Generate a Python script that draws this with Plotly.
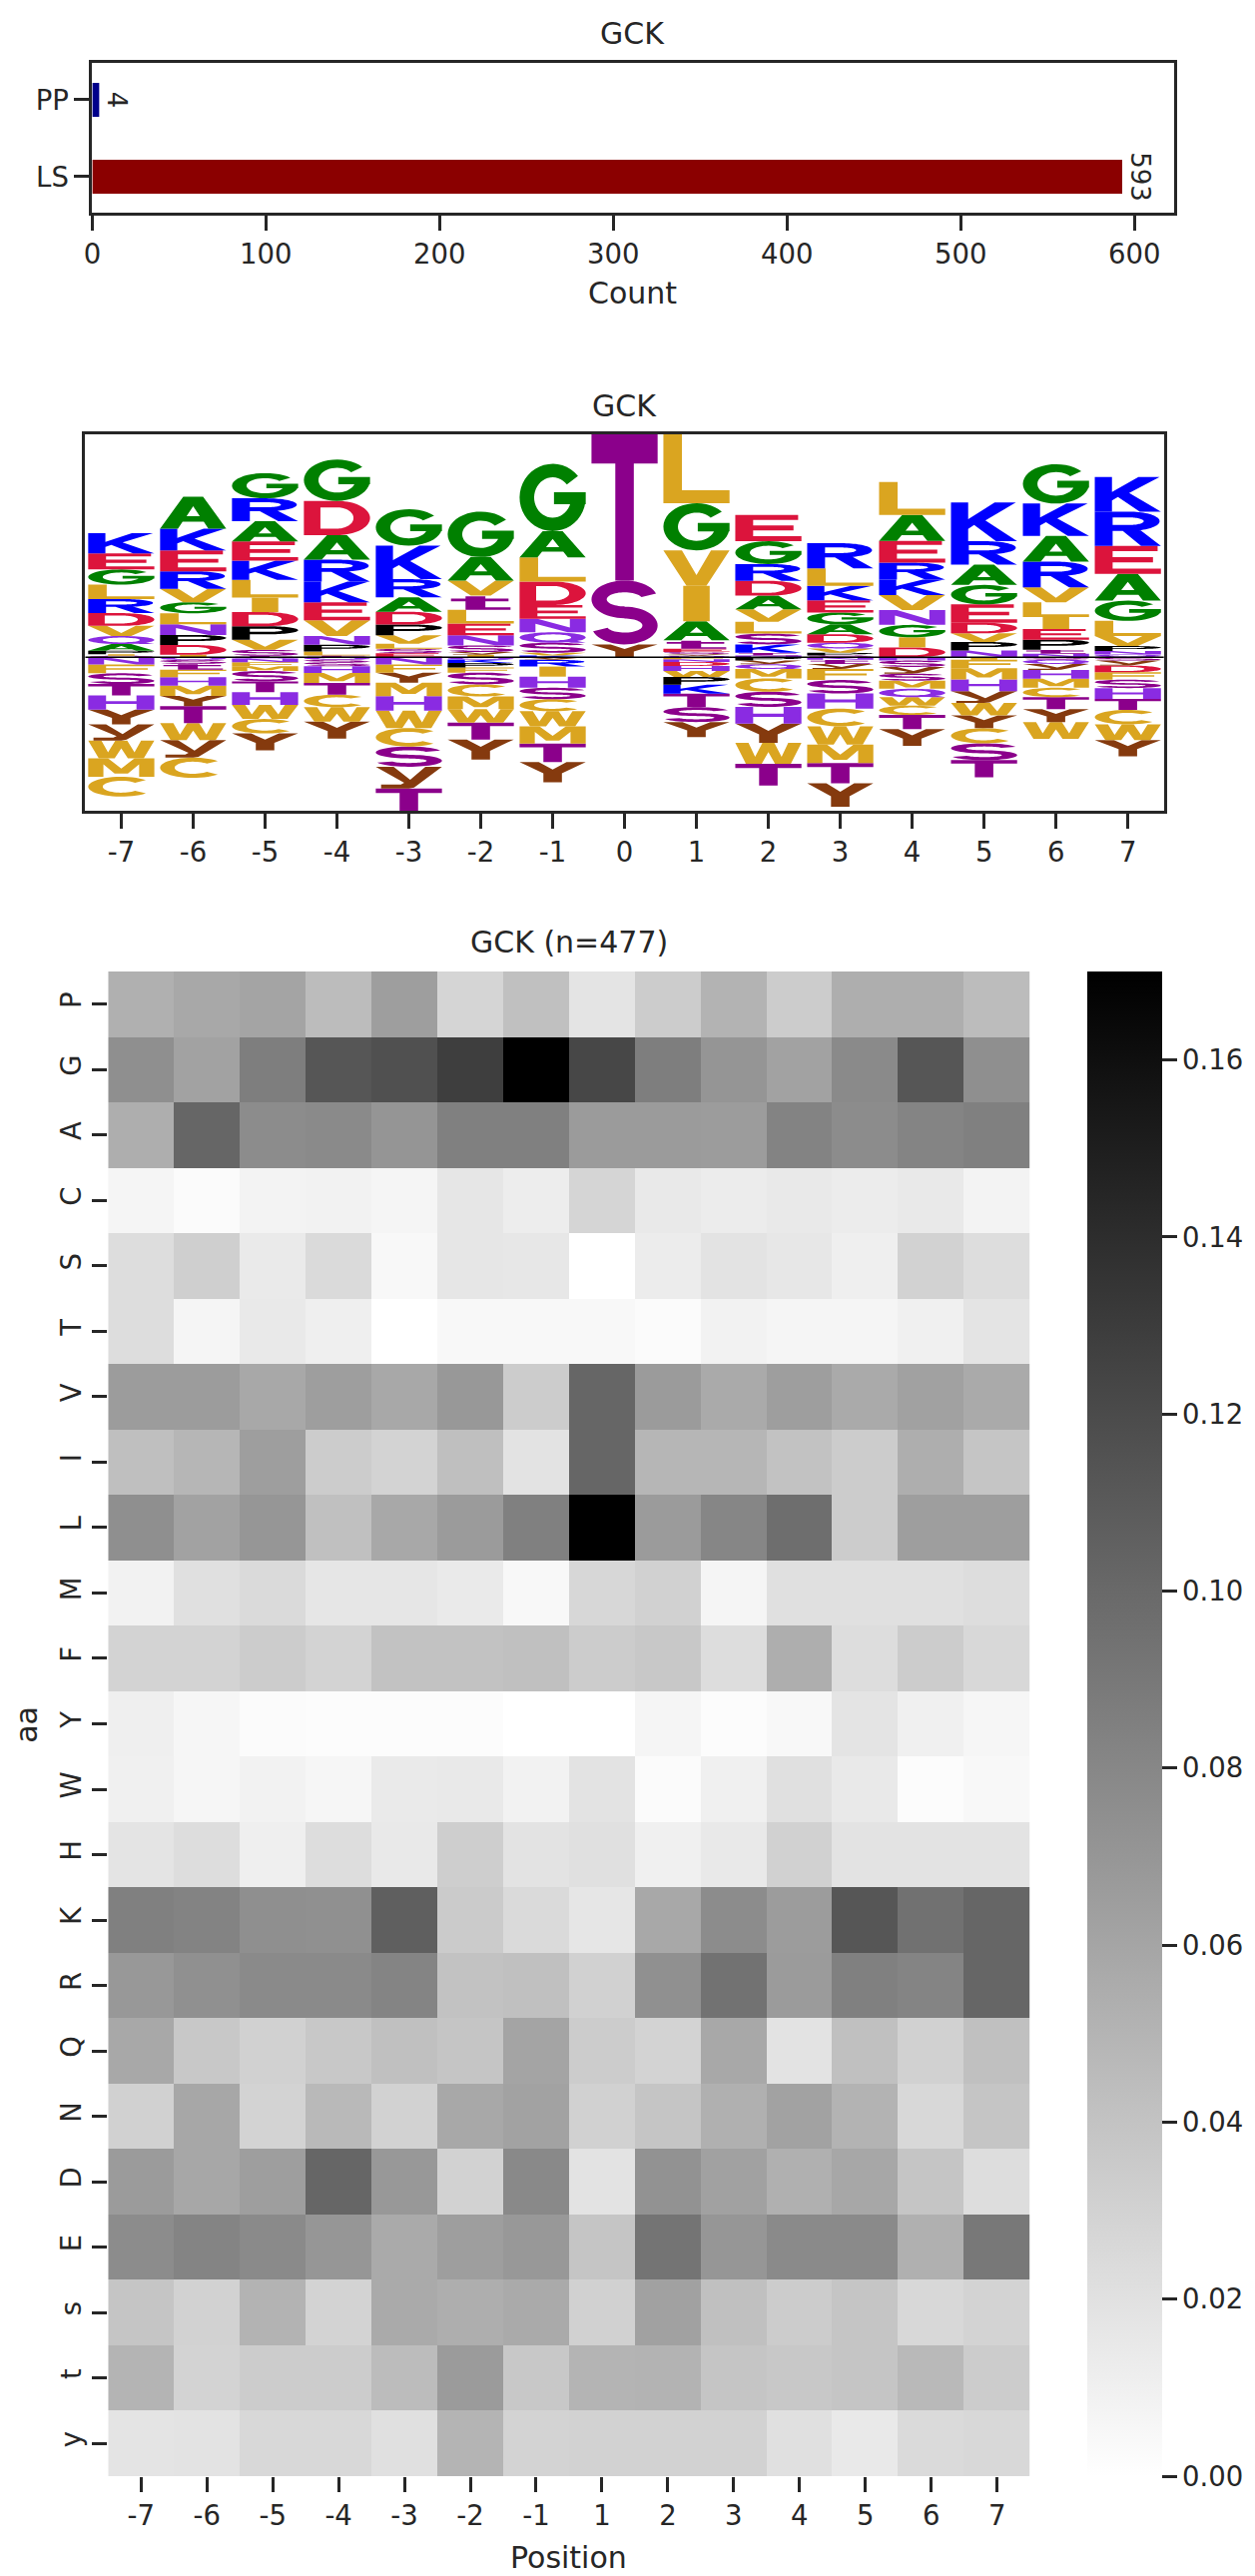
import numpy as np
import plotly.graph_objects as go

W, H = 1257, 2580
INK = '#262626'
FONT = 'DejaVu Sans'

# ---------------- bar chart data ----------------
bar_labels = ['PP', 'LS']
bar_counts = [4, 593]
bar_colors = ['#00008B', '#8B0000']

# ---------------- sequence logo data (positions -7..7) ----------------
logo_positions = list(range(-7, 8))
logo_P = [.10, .30, .40, .20, .32, -.14, 0, 0, -.23, -.10, .08, 0, .25, .30, .15]
logo_G = [.45, .33, .75, 1.23, 1.08, 1.35, 2.00, 0, 1.40, .68, .35, .37, .58, 1.17, .60]
logo_A = [.20, .95, .60, .73, .43, .70, .78, 0, .57, .41, .30, .77, .60, .77, .80]
logo_C = [-.59, -.60, -.43, -.37, -.55, -.36, -.36, 0, 0, -.40, -.53, -.28, -.45, -.28, -.43]
logo_S = [-.32, 0, -.31, -.12, -.60, -.35, -.34, 1.90, -.44, -.45, -.40, -.21, -.50, 0, -.25]
logo_T = [-.34, -.50, -.32, -.35, -.66, -.50, -.55, 4.35, -.40, -.65, -.60, -.42, -.51, -.36, -.33]
logo_V = [.30, .40, .30, .47, .25, .45, .08, 0, 1.06, .37, .13, .45, .26, .45, .30]
logo_I = [.05, .07, .43, 0, 0, .07, -.30, 0, 1.05, 0, 0, .30, -.08, .35, 0]
logo_L = [.43, .325, .53, .12, .15, .41, .72, 0, 2.05, .35, .52, .98, 0, .44, .45]
logo_M = [-.55, -.30, -.14, -.30, -.40, -.38, -.51, 0, 0, -.28, -.55, -.24, -.33, -.27, 0]
logo_F = [-.26, -.23, -.12, 0, -.24, -.15, 0, 0, -.06, 0, -.33, 0, -.25, 0, -.22]
logo_Y = [-.44, -.31, -.50, -.50, -.30, -.60, -.60, .38, -.45, -.57, -.70, -.50, -.38, -.38, -.48]
logo_W = [-.53, -.51, -.42, -.43, -.52, -.40, -.45, 0, -.18, -.62, -.54, -.25, -.37, -.50, -.47]
logo_H = [-.42, -.25, -.38, -.20, -.43, 0, -.33, 0, -.15, -.50, -.45, -.10, -.35, -.26, -.32]
logo_K = [.60, .65, .57, .62, 1.00, -.10, .05, 0, -.27, .25, .43, .46, 1.15, .96, 1.03]
logo_R = [.42, .52, .68, .65, .54, 0, -.20, 0, 0, .50, .75, .50, .70, .76, 1.02]
logo_Q = [.24, -.08, -.04, -.07, 0, -.07, .31, 0, .04, -.14, .17, -.25, 0, -.13, .08]
logo_N = [-.22, .32, -.11, .26, -.22, .30, .40, 0, -.08, .05, -.08, .44, .20, .10, .10]
logo_D = [.38, .29, .42, 1.02, .38, 0, .70, 0, -.12, .44, .25, .29, .31, 0, -.20]
logo_E = [.48, .62, .575, .53, .12, .35, .41, 0, .10, .78, .36, .65, .55, .32, .83]
logo_s = [.04, -.12, .18, -.08, .13, .20, .30, 0, .06, .32, .05, -.19, 0, -.07, -.10]
logo_t = [0, -.17, .04, .05, 0, .42, 0, 0, .25, .08, -.12, 0, 0, .12, 0]
logo_y = [-.48, -.52, 0, 0, -.65, .08, -.08, 0, .05, -.11, -.15, -.20, -.355, -.18, -.15]

# ---------------- heatmap data ----------------
hm_positions = ['-7', '-6', '-5', '-4', '-3', '-2', '-1', '1', '2', '3', '4', '5', '6', '7']
hm_aa = ['P', 'G', 'A', 'C', 'S', 'T', 'V', 'I', 'L', 'M', 'F', 'Y', 'W', 'H',
         'K', 'R', 'Q', 'N', 'D', 'E', 's', 't', 'y']
hm_P = [.053, .058, .061, .045, .065, .028, .042, .018, .034, .051, .034, .054, .054, .045]
hm_G = [.075, .062, .086, .113, .117, .129, .170, .123, .086, .071, .062, .078, .113, .075]
hm_A = [.054, .102, .077, .078, .071, .085, .085, .067, .067, .066, .083, .077, .082, .085]
hm_C = [.007, .003, .008, .009, .007, .017, .012, .028, .015, .013, .015, .013, .015, .008]
hm_S = [.023, .032, .014, .025, .005, .017, .016, .000, .013, .019, .016, .011, .030, .023]
hm_T = [.023, .007, .015, .011, .000, .005, .005, .005, .003, .009, .007, .007, .010, .018]
hm_V = [.066, .066, .058, .065, .058, .069, .034, .102, .067, .057, .065, .057, .063, .057]
hm_I = [.043, .049, .065, .034, .029, .043, .019, .102, .049, .049, .041, .034, .054, .039]
hm_L = [.075, .062, .070, .042, .058, .067, .085, .170, .067, .081, .097, .034, .065, .065]
hm_M = [.009, .021, .025, .017, .017, .014, .005, .027, .031, .007, .021, .021, .021, .023]
hm_F = [.029, .029, .034, .029, .041, .041, .042, .034, .037, .023, .054, .023, .034, .026]
hm_Y = [.011, .006, .003, .002, .002, .002, .000, .000, .007, .002, .005, .018, .010, .006]
hm_W = [.010, .006, .009, .006, .014, .015, .009, .019, .003, .010, .021, .015, .002, .005]
hm_H = [.018, .023, .011, .023, .015, .033, .019, .021, .010, .015, .031, .019, .019, .019]
hm_K = [.085, .083, .075, .074, .107, .035, .025, .017, .058, .077, .066, .113, .095, .102]
hm_R = [.069, .074, .078, .078, .082, .041, .042, .031, .074, .094, .067, .085, .082, .102]
hm_Q = [.058, .037, .031, .037, .042, .039, .061, .034, .029, .058, .019, .042, .031, .042]
hm_N = [.031, .059, .029, .047, .030, .058, .062, .031, .039, .053, .062, .051, .026, .039]
hm_D = [.067, .059, .065, .102, .069, .030, .079, .019, .073, .063, .053, .059, .039, .023]
hm_E = [.077, .082, .078, .070, .057, .065, .069, .039, .093, .070, .078, .078, .053, .090]
hm_s = [.039, .030, .051, .029, .057, .054, .057, .031, .063, .042, .034, .039, .026, .029]
hm_t = [.050, .029, .034, .034, .045, .067, .037, .050, .051, .039, .037, .039, .047, .034]
hm_y = [.018, .019, .026, .026, .021, .050, .029, .030, .030, .030, .021, .015, .025, .026]

# ======================================================================
logo_letters = ['P', 'G', 'A', 'C', 'S', 'T', 'V', 'I', 'L', 'M', 'F', 'Y', 'W', 'H',
                'K', 'R', 'Q', 'N', 'D', 'E', 's', 't', 'y']
logo_values = {ch: globals()['logo_' + ch] for ch in logo_letters}
hm_z = [globals()['hm_' + ch] for ch in hm_aa]

GOLD, GREEN, BLUE, RED = '#DAA520', '#008000', '#0000FF', '#DC143C'
VIOLET, MAGENTA, BROWN = '#8A2BE2', '#8B008B', '#853A0E'
LETTER_COLORS = {'G': GREEN, 'A': GREEN, 'K': BLUE, 'R': BLUE, 'D': RED, 'E': RED,
                 'L': GOLD, 'V': GOLD, 'I': GOLD, 'F': GOLD, 'M': GOLD, 'W': GOLD, 'C': GOLD,
                 'N': VIOLET, 'Q': VIOLET, 'H': VIOLET,
                 'S': MAGENTA, 'T': MAGENTA, 's': MAGENTA, 't': MAGENTA,
                 'Y': BROWN, 'y': BROWN, 'P': '#000000'}


def arc(cx, cy, rx, ry, a0, a1, n=40):
    t = np.radians(np.linspace(a0, a1, n))
    return [(cx + rx * np.cos(a), cy + ry * np.sin(a)) for a in t]


def ring(cx, cy, rxo, ryo, rxi, ryi, a0, a1, n=40):
    return arc(cx, cy, rxo, ryo, a0, a1, n) + arc(cx, cy, rxi, ryi, a1, a0, n)


def box(x0, y0, x1, y1):
    return [(x0, y0), (x1, y0), (x1, y1), (x0, y1)]


S_GLYPH = ([ring(0.5, 0.705, 0.5, 0.295, 0.27, 0.11, 18, 270),
            ring(0.5, 0.295, 0.5, 0.295, 0.27, 0.11, 198, 450)], [])
GLYPHS = {
    'A': ([[(0, 0), (0.35, 1), (0.65, 1), (1, 0), (0.73, 0), (0.66, 0.22), (0.34, 0.22), (0.27, 0)]],
          [[(0.40, 0.39), (0.60, 0.39), (0.5, 0.70)]]),
    'C': ([ring(0.5, 0.5, 0.5, 0.5, 0.28, 0.30, 42, 318)], []),
    'D': ([[(0, 0), (0, 1)] + arc(0.5, 0.5, 0.5, 0.5, 90, -90)],
          [[(0.25, 0.19), (0.25, 0.81)] + arc(0.5, 0.5, 0.25, 0.31, 90, -90)]),
    'E': ([[(0, 0), (0, 1), (0.95, 1), (0.95, 0.81), (0.27, 0.81), (0.27, 0.6), (0.88, 0.6),
            (0.88, 0.41), (0.27, 0.41), (0.27, 0.19), (1, 0.19), (1, 0)]], []),
    'F': ([[(0, 0), (0, 1), (1, 1), (1, 0.81), (0.27, 0.81), (0.27, 0.59), (0.9, 0.59),
            (0.9, 0.4), (0.27, 0.4), (0.27, 0)]], []),
    'G': ([ring(0.5, 0.5, 0.5, 0.5, 0.28, 0.30, 40, 360), box(0.52, 0.40, 1.0, 0.58)], []),
    'H': ([[(0, 0), (0, 1), (0.27, 1), (0.27, 0.6), (0.73, 0.6), (0.73, 1), (1, 1), (1, 0),
            (0.73, 0), (0.73, 0.41), (0.27, 0.41), (0.27, 0)]], []),
    'I': ([box(0.3, 0, 0.7, 1)], []),
    'K': ([[(0, 0), (0, 1), (0.26, 1), (0.26, 0.57), (0.66, 1), (0.98, 1), (0.52, 0.54), (1, 0),
            (0.68, 0), (0.35, 0.42), (0.26, 0.32), (0.26, 0)]], []),
    'L': ([[(0, 0), (0, 1), (0.28, 1), (0.28, 0.19), (1, 0.19), (1, 0)]], []),
    'M': ([[(0, 0), (0, 1), (0.3, 1), (0.5, 0.45), (0.7, 1), (1, 1), (1, 0), (0.77, 0), (0.77, 0.68),
            (0.6, 0.17), (0.4, 0.17), (0.23, 0.68), (0.23, 0)]], []),
    'N': ([[(0, 0), (0, 1), (0.27, 1), (0.76, 0.36), (0.76, 1), (1, 1), (1, 0), (0.73, 0),
            (0.24, 0.64), (0.24, 0)]], []),
    'P': ([[(0, 0), (0, 1), (0.55, 1)] + arc(0.55, 0.7, 0.45, 0.3, 90, -90) + [(0.27, 0.4), (0.27, 0)]],
          [[(0.27, 0.58), (0.27, 0.82), (0.55, 0.82)] + arc(0.55, 0.7, 0.21, 0.12, 90, -90)]),
    'Q': ([arc(0.5, 0.5, 0.5, 0.5, 0, 360, 60), [(0.58, 0.26), (0.8, 0.26), (1.0, 0.0), (0.78, 0.0)]],
          [arc(0.5, 0.5, 0.28, 0.30, 0, 360, 60)]),
    'R': ([[(0, 0), (0, 1), (0.52, 1)] + arc(0.52, 0.72, 0.46, 0.28, 90, -90) + [(0.27, 0.44), (0.27, 0)],
           [(0.4, 0.47), (0.68, 0.47), (1.0, 0), (0.7, 0)]],
          [[(0.27, 0.61), (0.27, 0.83), (0.52, 0.83)] + arc(0.52, 0.72, 0.22, 0.11, 90, -90)]),
    'S': S_GLYPH,
    's': S_GLYPH,
    'T': ([[(0, 1), (1, 1), (1, 0.8), (0.64, 0.8), (0.64, 0), (0.36, 0), (0.36, 0.8), (0, 0.8)]], []),
    'V': ([[(0, 1), (0.28, 1), (0.5, 0.3), (0.72, 1), (1, 1), (0.65, 0), (0.35, 0)]], []),
    'W': ([[(0, 1), (0.2, 1), (0.3, 0.33), (0.41, 1), (0.59, 1), (0.7, 0.33), (0.8, 1), (1, 1),
            (0.84, 0), (0.6, 0), (0.5, 0.56), (0.4, 0), (0.16, 0)]], []),
    'Y': ([[(0, 1), (0.29, 1), (0.5, 0.63), (0.71, 1), (1, 1), (0.64, 0.44), (0.64, 0), (0.36, 0),
            (0.36, 0.44)]], []),
    't': ([box(0.27, 0.1, 0.57, 0.95), box(0.05, 0.6, 0.92, 0.79), box(0.27, 0, 0.95, 0.18)], []),
    'y': ([[(0, 1), (0.27, 1), (0.52, 0.4), (0.75, 1), (1, 1), (0.58, 0.05), (0.5, 0), (0.08, 0),
            (0.08, 0.18), (0.38, 0.18), (0.43, 0.27)]], []),
}


def signed_area(pts):
    a = 0.0
    for i in range(len(pts)):
        x1, y1 = pts[i]
        x2, y2 = pts[(i + 1) % len(pts)]
        a += x1 * y2 - x2 * y1
    return a / 2.0


def glyph_path(ch, xc, y0, h, w=0.92):
    outers, holes = GLYPHS[ch]
    parts = []
    for poly, ccw in [(p, True) for p in outers] + [(p, False) for p in holes]:
        pts = list(poly)
        if (signed_area(pts) > 0) != ccw:
            pts = pts[::-1]
        parts.append('M ' + ' L '.join(f'{xc - w / 2 + gx * w:.4f},{y0 + gy * h:.5f}'
                                       for gx, gy in pts) + ' Z')
    return ' '.join(parts)


# stacking like logomaker (big on top, negatives below baseline)
shapes = []
ymin, ymax = 0.0, 0.0
for j, pos in enumerate(logo_positions):
    vals = sorted([(logo_values[ch][j], k, ch) for k, ch in enumerate(logo_letters)])
    floor = sum(v for v, _, _ in vals if v < 0)
    ymin = min(ymin, floor)
    for v, _, ch in vals:
        if v == 0:
            continue
        ceil = floor + abs(v)
        shapes.append(dict(type='path', xref='x2', yref='y2', path=glyph_path(ch, pos, floor, abs(v)),
                           fillcolor=LETTER_COLORS[ch], line=dict(width=0), fillrule='nonzero',
                           layer='above'))
        floor = ceil
    ymax = max(ymax, floor)

shapes.append(dict(type='line', xref='x2 domain', yref='y2', x0=0, x1=1, y0=0, y1=0,
                   line=dict(color='black', width=1.5), layer='above'))

fig = go.Figure()

# bar chart
fig.add_trace(go.Bar(x=bar_counts, y=bar_labels, orientation='h', marker=dict(color=bar_colors, line=dict(width=0)),
                     width=0.44, text=[str(c) for c in bar_counts], textposition='outside', textangle=90,
                     constraintext='none', cliponaxis=False,
                     textfont=dict(family=FONT, size=26, color=INK), xaxis='x', yaxis='y',
                     showlegend=False, hoverinfo='skip'))

# invisible anchor trace for logo axes
fig.add_trace(go.Scatter(x=logo_positions, y=[0] * len(logo_positions), mode='markers',
                         marker=dict(opacity=0), xaxis='x2', yaxis='y2', showlegend=False,
                         hoverinfo='skip'))

# heatmap
zvals = np.array(hm_z)
fig.add_trace(go.Heatmap(
    z=hm_z, x=hm_positions, y=hm_aa, xaxis='x3', yaxis='y3',
    colorscale=[[0, '#ffffff'], [1, '#000000']], zmin=float(zvals.min()), zmax=float(zvals.max()),
    colorbar=dict(x=1088 / W, xanchor='left', y=1 - (973 + 2480) / 2 / H, yanchor='middle',
                  len=(2480 - 973) / H, lenmode='fraction', thickness=75, thicknessmode='pixels',
                  outlinewidth=0, ticks='outside', ticklen=15, tickwidth=3, tickcolor=INK,
                  tickvals=[0, 0.02, 0.04, 0.06, 0.08, 0.10, 0.12, 0.14, 0.16], tickformat='.2f',
                  tickfont=dict(family=FONT, size=27.5, color=INK), xpad=0, ypad=0),
    hoverinfo='skip'))

tick_style = dict(ticks='outside', ticklen=15, tickwidth=3, tickcolor=INK,
                  tickfont=dict(family=FONT, size=27.5, color=INK), showgrid=False, zeroline=False)
box_style = dict(showline=True, linewidth=3, linecolor=INK, mirror=True)

fig.update_layout(
    width=W, height=H, margin=dict(l=0, r=0, t=0, b=0), autosize=False,
    paper_bgcolor='white', plot_bgcolor='white',
    font=dict(family=FONT, color=INK),
    xaxis=dict(domain=[84 / W, 1175 / W], anchor='y', range=[0, 622.65],
               tickvals=[0, 100, 200, 300, 400, 500, 600], **tick_style, **box_style),
    yaxis=dict(domain=[1 - 213 / H, 1 - 63 / H], anchor='x', type='category',
               range=[1.4675, -0.48], **tick_style, **box_style),
    xaxis2=dict(domain=[77 / W, 1165 / W], anchor='y2', range=[-7.5, 7.5],
                tickvals=logo_positions, ticktext=[str(p) for p in logo_positions],
                **tick_style, **box_style),
    yaxis2=dict(domain=[1 - 812 / H, 1 - 435 / H], anchor='x2', range=[ymin, ymax],
                showticklabels=False, ticks='', showgrid=False, zeroline=False, **box_style),
    xaxis3=dict(domain=[100 / W, 1030 / W], anchor='y3', type='category', **tick_style),
    yaxis3=dict(domain=[1 - 2480 / H, 1 - 973 / H], anchor='x3', type='category',
                autorange='reversed', tickangle=-90, **tick_style),
    shapes=shapes,
)

def label(text, xpx, ypx, size=30, angle=0):
    fig.add_annotation(text=text, x=xpx / W, y=1 - ypx / H, xref='paper', yref='paper',
                       xanchor='center', yanchor='middle', showarrow=False, textangle=angle,
                       font=dict(family=FONT, size=size, color=INK))

label('GCK', 629.5, 34)
label('Count', 629.5, 293)
label('GCK', 621, 406)
label('GCK (n=477)', 565, 943)
label('Position', 565, 2561)
label('aa', 18, 1727, angle=-90)

fig.write_html('out.html', config={'displayModeBar': False},
               post_script="document.body.style.margin='0';document.body.style.overflow='hidden';")
